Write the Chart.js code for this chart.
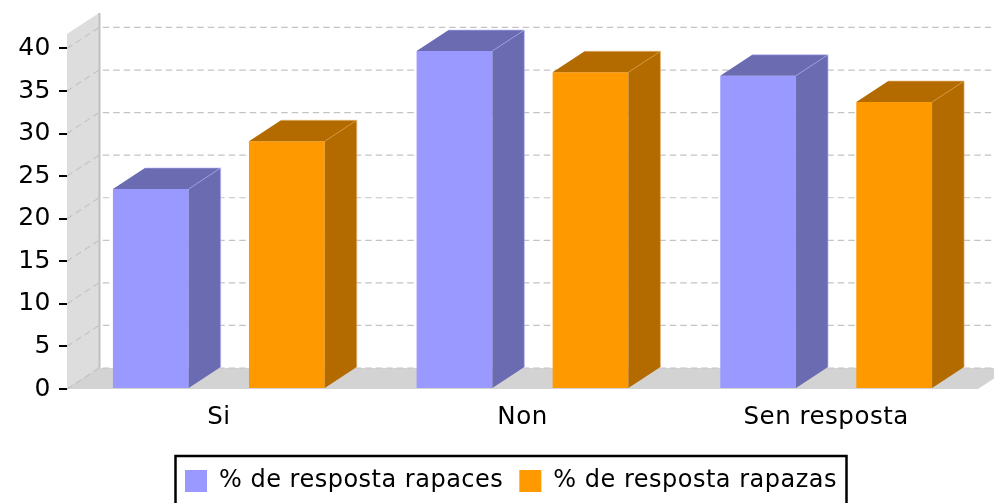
<!DOCTYPE html>
<html>
<head>
<meta charset="utf-8">
<title>Resposta por sexo</title>
<script src="https://cdn.jsdelivr.net/npm/chart.js@4/dist/chart.umd.min.js"></script>
<style>
    html, body { margin: 0; padding: 0; background: #fff; overflow: hidden; }
    canvas { display: block; }
</style>
</head>
<body>
<canvas id="chart" width="994" height="503"></canvas>
<script>
const categories = ['Si', 'Non', 'Sen resposta'];
const rapaces = [23.5, 39.7, 36.8];
const rapazas = [29.1, 37.2, 33.7];
const seriesNames = ['% de resposta rapaces', '% de resposta rapazas'];
const yTop = 41.7;

// depth of the fake 3D box, in pixels
const depthX = 32;
const depthY = 21;

const frontColors = ['#9999FF', '#FF9900'];
const sideColors = ['#6B6BB2', '#B36B00'];
const edgeColors = ['rgba(190,190,255,0.9)', 'rgba(230,180,110,0.9)'];

// walls, floor and dashed grid behind the bars
const backdrop = {
    id: 'backdrop',
    beforeDatasetsDraw(chart) {
        const { ctx, chartArea: area, scales: { y } } = chart;
        const base = y.getPixelForValue(0);
        const top = y.getPixelForValue(yTop);

        ctx.save();
        ctx.fillStyle = '#DDDDDD';
        ctx.beginPath();
        ctx.moveTo(area.left, base);
        ctx.lineTo(area.left, top);
        ctx.lineTo(area.left + depthX, top - depthY);
        ctx.lineTo(area.left + depthX, base - depthY);
        ctx.closePath();
        ctx.fill();

        ctx.fillStyle = '#D3D3D3';
        ctx.beginPath();
        ctx.moveTo(area.left, base);
        ctx.lineTo(area.left + depthX, base - depthY);
        ctx.lineTo(area.right + depthX, base - depthY);
        ctx.lineTo(area.right, base);
        ctx.closePath();
        ctx.fill();

        ctx.strokeStyle = '#C0C0C0';
        ctx.lineWidth = 2;
        ctx.beginPath();
        ctx.moveTo(area.left + depthX + 0.5, top - depthY);
        ctx.lineTo(area.left + depthX + 0.5, base - depthY);
        ctx.stroke();

        ctx.strokeStyle = '#CFCFDD';
        ctx.lineWidth = 1;
        ctx.beginPath();
        ctx.moveTo(area.left, base);
        ctx.lineTo(area.left + depthX, base - depthY);
        ctx.stroke();

        ctx.strokeStyle = '#C4C4C4';
        ctx.lineWidth = 1.2;
        ctx.setLineDash([6.5, 4]);
        y.ticks.forEach(t => {
            const py = y.getPixelForValue(t.value);
            ctx.beginPath();
            ctx.moveTo(area.left, py);
            ctx.lineTo(area.left + depthX, py - depthY);
            ctx.lineTo(area.right + depthX, py - depthY);
            ctx.stroke();
        });
        ctx.restore();
    },
    // side and top faces of each bar, taken from the bar elements
    afterDatasetsDraw(chart) {
        const { ctx } = chart;
        ctx.save();
        chart.data.datasets.forEach((ds, i) => {
            chart.getDatasetMeta(i).data.forEach(bar => {
                const left = bar.x - bar.width / 2;
                const right = bar.x + bar.width / 2;
                ctx.fillStyle = sideColors[i];
                ctx.beginPath();
                ctx.moveTo(right, bar.base);
                ctx.lineTo(right + depthX, bar.base - depthY);
                ctx.lineTo(right + depthX, bar.y - depthY);
                ctx.lineTo(left + depthX, bar.y - depthY);
                ctx.lineTo(left, bar.y);
                ctx.lineTo(right, bar.y);
                ctx.closePath();
                ctx.fill();

                ctx.strokeStyle = edgeColors[i];
                ctx.lineWidth = 0.7;
                ctx.beginPath();
                ctx.moveTo(right, bar.y);
                ctx.lineTo(right + depthX, bar.y - depthY);
                ctx.lineTo(right + depthX, bar.base - depthY);
                ctx.moveTo(right + depthX, bar.y - depthY);
                ctx.lineTo(left + depthX, bar.y - depthY);
                ctx.stroke();
            });
        });
        ctx.restore();
    }
};

// the canvas context is reset when Chart.js sizes it, so the spacing goes on here
const textSpacing = {
    id: 'textSpacing',
    beforeLayout(chart) {
        chart.ctx.letterSpacing = '0.5px';
    },
    beforeDraw(chart) {
        chart.ctx.letterSpacing = '0.5px';
    }
};

// put the legend where the reference has it, with its black frame running off the page
const legendFrame = {
    id: 'legendFrame',
    afterLayout(chart) {
        const legend = chart.legend;
        legend.left = 14;
        legend.right = 1008;
        legend.top = 453;
        legend.bottom = 509;
    },
    afterDraw(chart) {
        const { ctx } = chart;
        ctx.save();
        ctx.strokeStyle = '#000';
        ctx.lineWidth = 2.5;
        ctx.strokeRect(175.5, 456, 671, 52);
        ctx.restore();
    }
};

new Chart(document.getElementById('chart').getContext('2d'), {
    type: 'bar',
    data: {
        labels: categories,
        datasets: [
            { label: seriesNames[0], data: rapaces, backgroundColor: frontColors[0] },
            { label: seriesNames[1], data: rapazas, backgroundColor: frontColors[1] }
        ]
    },
    options: {
        responsive: false,
        animation: false,
        categoryPercentage: 0.896,
        barPercentage: 0.557,
        layout: { padding: { top: 34, right: 16, left: 0, bottom: 0 } },
        font: { family: '"DejaVu Sans"' },
        scales: {
            x: {
                grid: { display: false },
                border: { display: false },
                afterFit: scale => { scale.height = 64; },
                ticks: {
                    color: '#000',
                    padding: 5.5,
                    maxRotation: 0,
                    font: { family: '"DejaVu Sans"', size: 24.5 }
                }
            },
            y: {
                min: 0,
                max: yTop,
                afterFit: scale => { scale.width = 67; },
                grid: {
                    drawOnChartArea: false,
                    color: '#000',
                    lineWidth: 2,
                    tickLength: 8
                },
                border: { display: false },
                ticks: {
                    stepSize: 5,
                    includeBounds: false,
                    color: '#000',
                    padding: 8,
                    font: { family: '"DejaVu Sans"', size: 25 }
                }
            }
        },
        plugins: {
            title: { display: false },
            tooltip: { enabled: false },
            legend: {
                position: 'bottom',
                labels: {
                    boxWidth: 22,
                    boxHeight: 22,
                    padding: 16,
                    color: '#000',
                    font: { family: '"DejaVu Sans"', size: 24 }
                }
            }
        }
    },
    plugins: [textSpacing, backdrop, legendFrame]
});
</script>
</body>
</html>
